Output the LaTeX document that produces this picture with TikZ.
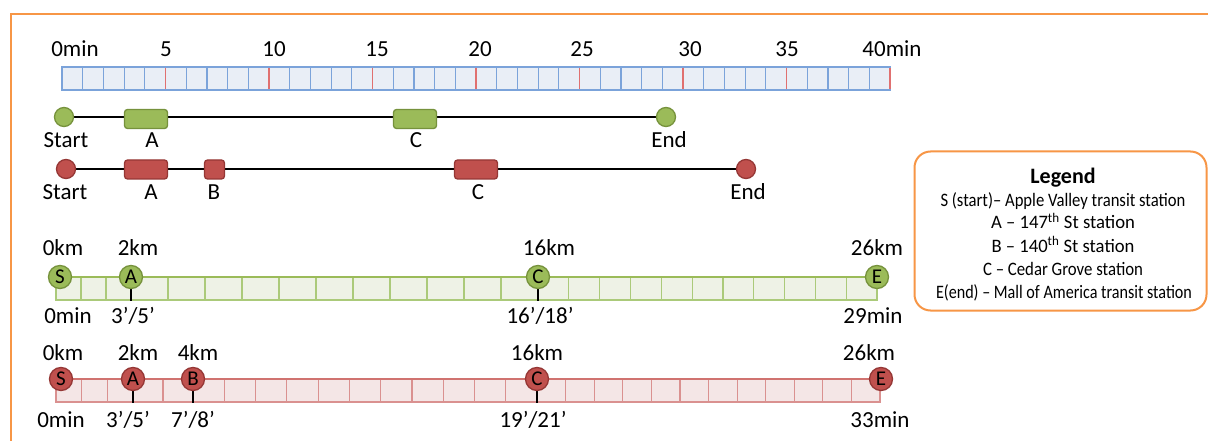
\documentclass[tikz,border=0pt]{standalone}
\usepackage{fontspec}
\setmainfont{Carlito}
\usetikzlibrary{backgrounds}
\definecolor{orng}{HTML}{F79646}
\definecolor{scalefill}{HTML}{E9EEF6}
\definecolor{scaleline}{HTML}{7BA3DA}
\definecolor{scalered}{HTML}{E07070}
\definecolor{gfill}{HTML}{9BBB59}
\definecolor{gdraw}{HTML}{76923C}
\definecolor{rfill}{HTML}{C0504D}
\definecolor{rdraw}{HTML}{953735}
\definecolor{gbarfill}{HTML}{EEF2E6}
\definecolor{gbarline}{HTML}{ABCA7A}
\definecolor{gbartop}{HTML}{9BBB59}
\definecolor{rbarfill}{HTML}{F4E6E6}
\definecolor{rbarline}{HTML}{DA9190}
\definecolor{rbartop}{HTML}{D07370}
\begin{document}
\begin{tikzpicture}[x=1pt,y=-1pt,
  lbl/.style={font=\fontsize{23}{27}\selectfont, inner sep=0pt, anchor=base},
  lgd/.style={font=\fontsize{19}{22}\selectfont, inner sep=0pt, anchor=base},
  gdot/.style={circle, fill=gfill, draw=gdraw, line width=1.3pt, minimum size=19pt, inner sep=0pt},
  rdot/.style={circle, fill=rfill, draw=rdraw, line width=1.3pt, minimum size=19pt, inner sep=0pt},
  gbox/.style={rectangle, rounded corners=3pt, fill=gfill, draw=gdraw, line width=1.3pt, minimum width=43pt, minimum height=19pt, inner sep=0pt},
  rbox/.style={rectangle, rounded corners=3pt, fill=rfill, draw=rdraw, line width=1.3pt, minimum width=43pt, minimum height=19pt, inner sep=0pt},
  gstn/.style={circle, fill=gfill, draw=gdraw, line width=1.3pt, minimum size=23pt, inner sep=0pt, font=\fontsize{21}{21}\selectfont},
  rstn/.style={circle, fill=rfill, draw=rdraw, line width=1.3pt, minimum size=23pt, inner sep=0pt, font=\fontsize{21}{21}\selectfont},
  tline/.style={black, line width=2.5pt},
  tick/.style={black, line width=2.2pt},
  gcell/.style={gbarline, line width=1.2pt},
  rcell/.style={rbarline, line width=1.2pt},
]
\useasboundingbox (0,0) rectangle (1208,441);
\clip (0,0) rectangle (1208,441);
\begin{pgfonlayer}{background}
\fill[white] (0,0) rectangle (1208,441);
\end{pgfonlayer}

% outer frame
\draw[orng, line width=2.5pt] (11,14) rectangle (1240,480);

% top time scale
\draw[scaleline, fill=scalefill, line width=1.2pt] (62,67) rectangle (890,90);
\foreach \i in {1,...,39} \draw[scaleline, line width=1.2pt] (62+20.7*\i,67) -- (62+20.7*\i,90);
\foreach \i in {5,10,...,40} \draw[scalered, line width=1.4pt] (62+20.7*\i,67.6) -- (62+20.7*\i,89.4);
\node[lbl] (m0) at (75,57) {0min};
\node[lbl] (m5) at (166,57) {5};
\node[lbl] (m10) at (274,57) {10};
\node[lbl] (m15) at (377,57) {15};
\node[lbl] (m20) at (480,57) {20};
\node[lbl] (m25) at (582,57) {25};
\node[lbl] (m30) at (690,57) {30};
\node[lbl] (m35) at (787,57) {35};
\node[lbl] (m40) at (892,57) {40min};

% green timeline
\node[gdot] (gs) at (64,117) {};
\node[gbox] (ga) at (146,119) {};
\node[gbox] (gc) at (415,119) {};
\node[gdot] (ge) at (666,117) {};
\begin{pgfonlayer}{background}
\draw[tline] (gs) -- (ge);
\end{pgfonlayer}
\node[lbl] (lgs) at (66,148) {Start};
\node[lbl] (lga) at (152,148) {A};
\node[lbl] (lgc) at (416,148) {C};
\node[lbl] (lge) at (669,148) {End};

% red timeline
\node[rdot] (rs) at (66,169) {};
\node[rbox] (ra) at (146,169.5) {};
\node[rbox, minimum width=20pt] (rb) at (214.5,169.5) {};
\node[rbox] (rc) at (476,169.5) {};
\node[rdot] (re) at (746,169) {};
\begin{pgfonlayer}{background}
\draw[tline] (rs) -- (re);
\end{pgfonlayer}
\node[lbl] (lrs) at (65,200) {Start};
\node[lbl] (lra) at (151,200) {A};
\node[lbl] (lrb) at (214,200) {B};
\node[lbl] (lrc) at (478,200) {C};
\node[lbl] (lre) at (748,200) {End};

% green distance bar
\node[gstn] (dgs) at (60,277) {S};
\node[gstn] (dga) at (131,277) {A};
\node[gstn] (dgc) at (538,277) {C};
\node[gstn] (dge) at (877,277) {E};
\coordinate (dgat) at (131,301);
\coordinate (dgct) at (538,301);
\begin{pgfonlayer}{background}
\fill[gbarfill] (56,277) rectangle (877,300);
\draw[gcell] (56,277) -- (56,300) -- (877,300) -- (877,277);
\foreach \x in {81,106,131,168,205,242,279,316,353,390,427,464,501,538,568.8,599.6,630.5,661.3,692.1,722.9,753.7,784.5,815.4,846.2}
  \draw[gcell] (\x,277) -- (\x,300);
\draw[gbartop, line width=2.5pt] (dgs) -- (dge);
\draw[tick] (dga) -- (dgat);
\draw[tick] (dgc) -- (dgct);
\end{pgfonlayer}
\node[lbl] (kg0) at (63,255) {0km};
\node[lbl] (kg2) at (138,255) {2km};
\node[lbl] (kg16) at (549,255) {16km};
\node[lbl] (kg26) at (877,255) {26km};
\node[lbl] (tg0) at (68,323) {0min};
\node[lbl] (tga) at (133,323) {3’/5’};
\node[lbl] (tgc) at (540,323) {16’/18’};
\node[lbl] (tge) at (873,323) {29min};

% red distance bar
\node[rstn] (drs) at (61,379) {S};
\node[rstn] (dra) at (133,379) {A};
\node[rstn] (drb) at (193,379) {B};
\node[rstn] (drc) at (537,379) {C};
\node[rstn] (dre) at (881,379) {E};
\coordinate (drat) at (133,403);
\coordinate (drbt) at (193,403);
\coordinate (drct) at (537,403);
\begin{pgfonlayer}{background}
\fill[rbarfill] (56,379) rectangle (880,402);
\draw[rcell] (56,379) -- (56,402) -- (880,402) -- (880,379);
\foreach \x in {81.7,107.3,133,163,193,224.3,255.5,286.8,318.1,349.4,380.6,411.9,443.2,474.4,505.7,537,565.6,594.2,622.7,651.3,679.9,708.5,737.1,765.7,794.2,822.8,851.4}
  \draw[rcell] (\x,379) -- (\x,402);
\draw[rbartop, line width=2.5pt] (drs) -- (dre);
\draw[tick] (dra) -- (drat);
\draw[tick] (drb) -- (drbt);
\draw[tick] (drc) -- (drct);
\end{pgfonlayer}
\node[lbl] (kr0) at (63,360) {0km};
\node[lbl] (kr2) at (138,360) {2km};
\node[lbl] (kr4) at (198,360) {4km};
\node[lbl] (kr16) at (537,360) {16km};
\node[lbl] (kr26) at (869,360) {26km};
\node[lbl] (tr0) at (61,427) {0min};
\node[lbl] (tra) at (128,427) {3’/5’};
\node[lbl] (trb) at (193,427) {7’/8’};
\node[lbl] (trc) at (533,427) {19’/21’};
\node[lbl] (tre) at (880,427) {33min};

% legend
\node[draw=orng, line width=2pt, rounded corners=16pt, fill=white, minimum width=292pt, minimum height=159pt, inner sep=0pt] (legend) at (1060.5,231) {};
\node[lgd, font=\fontsize{22}{24}\selectfont\bfseries] (lg0) at (1063,183) {Legend};
\node[lgd] (lg1) at (1063,206) {\resizebox{245pt}{\height}{S (start)– Apple Valley transit station}};
\node[lgd] (lg2) at (1063,229) {\resizebox{144pt}{\height}{A – 147\textsuperscript{th} St station}};
\node[lgd] (lg3) at (1063,252) {\resizebox{143pt}{\height}{B – 140\textsuperscript{th} St station}};
\node[lgd] (lg4) at (1063,275) {\resizebox{160pt}{\height}{C – Cedar Grove station}};
\node[lgd] (lg5) at (1064,298) {\resizebox{256pt}{\height}{E(end) – Mall of America transit station}};
\end{tikzpicture}
\end{document}
